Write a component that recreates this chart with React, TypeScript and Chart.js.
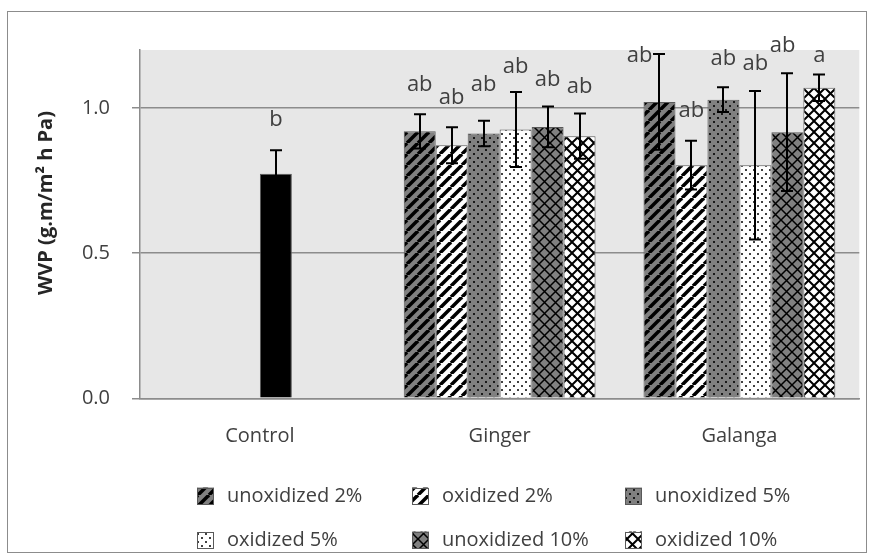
import { useEffect, useRef } from "react";
import { Chart, registerables } from "chart.js";
Chart.register(...registerables);

const categories = ["Control", "Ginger", "Galanga"];
const seriesNames = ["unoxidized 2%", "oxidized 2%", "unoxidized 5%", "oxidized 5%", "unoxidized 10%", "oxidized 10%"];
const yTicks = [0, 0.5, 1.0];

// mean WVP values
const unox2 = [null, 0.92, 1.021];
const ox2 = [null, 0.872, 0.803];
const unox5 = [null, 0.912, 1.029];
const ox5 = [0.774, 0.926, 0.803]; // Control bar sits in this slot
const unox10 = [null, 0.935, 0.917];
const ox10 = [null, 0.903, 1.07];

// error (+/-)
const unox2Err = [null, 0.059, 0.165];
const ox2Err = [null, 0.062, 0.084];
const unox5Err = [null, 0.044, 0.043];
const ox5Err = [0.081, 0.129, 0.256];
const unox10Err = [null, 0.07, 0.203];
const ox10Err = [null, 0.078, 0.046];

// significance letters and the value at which each letter sits
const unox2Let = ["", "ab", "ab"];
const ox2Let = ["", "ab", "ab"];
const unox5Let = ["", "ab", "ab"];
const ox5Let = ["b", "ab", "ab"];
const unox10Let = ["", "ab", "ab"];
const ox10Let = ["", "ab", "a"];
const unox2LetY = [null, 1.081, 1.181];
const ox2LetY = [null, 1.035, 0.992];
const unox5LetY = [null, 1.081, 1.17];
const ox5LetY = [0.96, 1.141, 1.153];
const unox10LetY = [null, 1.098, 1.216];
const ox10LetY = [null, 1.075, 1.179];
// horizontal nudge of letters in bar widths
const unox2LetShift = [0, 0, -0.62];
const unox10LetShift = [0, 0, -0.15];

const FONT = "'Open Sans', 'Noto Sans', sans-serif";
const GRAY = "#808080";
const EDGE = "#595959";
const TEXT = "#404040";

function tile(size: number, draw: (c: CanvasRenderingContext2D) => void) {
  const cv = document.createElement("canvas");
  cv.width = size;
  cv.height = size;
  const c = cv.getContext("2d")!;
  draw(c);
  return c.createPattern(cv, "repeat")!;
}

function stripes(bg: string) {
  const T = 11;
  return tile(T, (c) => {
    c.fillStyle = bg;
    c.fillRect(0, 0, T, T);
    c.strokeStyle = "#000";
    c.lineWidth = 3.5;
    for (const o of [-T, 0, T]) {
      c.beginPath();
      c.moveTo(o, T);
      c.lineTo(o + T, 0);
      c.stroke();
    }
  });
}

function dots(bg: string, dot: string) {
  const T = 8;
  return tile(T, (c) => {
    c.fillStyle = bg;
    c.fillRect(0, 0, T, T);
    c.fillStyle = dot;
    c.fillRect(1, 1, 2, 2);
    c.fillRect(5, 5, 2, 2);
  });
}

function cross(bg: string, lw: number) {
  const T = 11;
  return tile(T, (c) => {
    c.fillStyle = bg;
    c.fillRect(0, 0, T, T);
    c.strokeStyle = "#000";
    c.lineWidth = lw;
    for (const o of [-T, 0, T]) {
      c.beginPath();
      c.moveTo(o, T);
      c.lineTo(o + T, 0);
      c.moveTo(o, 0);
      c.lineTo(o + T, T);
      c.stroke();
    }
  });
}

export default function App() {
  const ref = useRef<HTMLCanvasElement>(null);

  useEffect(() => {
    const canvas = ref.current!;
    const pats = [
      stripes(GRAY),
      stripes("#ffffff"),
      dots(GRAY, "#1a1a1a"),
      dots("#ffffff", "#404040"),
      cross(GRAY, 1.5),
      cross("#ffffff", 2),
    ];
    const values = [unox2, ox2, unox5, ox5, unox10, ox10];
    const errs = [unox2Err, ox2Err, unox5Err, ox5Err, unox10Err, ox10Err];
    const lets = [unox2Let, ox2Let, unox5Let, ox5Let, unox10Let, ox10Let];
    const letY = [unox2LetY, ox2LetY, unox5LetY, ox5LetY, unox10LetY, ox10LetY];
    const shifts = [unox2LetShift, null, null, null, unox10LetShift, null];

    const datasets = values.map((d, i) => ({
      label: seriesNames[i],
      data: d,
      backgroundColor: i === 3 ? ["#000000", pats[i], pats[i]] : pats[i],
      borderColor: EDGE,
      borderWidth: 1,
      categoryPercentage: 0.8,
      barPercentage: 1.0,
    }));

    const decor = {
      id: "decor",
      beforeDraw(chart: any) {
        const { ctx, chartArea: a } = chart;
        ctx.save();
        ctx.fillStyle = "#ffffff";
        ctx.fillRect(0, 0, chart.width, chart.height);
        ctx.fillStyle = "#e7e7e7";
        ctx.fillRect(a.left, a.top, a.right - a.left, a.bottom - a.top);
        ctx.strokeStyle = "#8c8c8c";
        ctx.lineWidth = 1;
        ctx.strokeRect(7.5, 11.5, 859, 541);
        ctx.restore();
      },
      afterDatasetsDraw(chart: any) {
        const { ctx } = chart;
        const y = chart.scales.y;
        ctx.save();
        ctx.strokeStyle = "#000";
        ctx.lineWidth = 2;
        chart.data.datasets.forEach((ds: any, i: number) => {
          const meta = chart.getDatasetMeta(i);
          meta.data.forEach((el: any, j: number) => {
            const v = ds.data[j];
            const e = errs[i][j];
            if (v == null || e == null) return;
            const x = Math.round(el.x);
            const t = y.getPixelForValue(v + e);
            const b = y.getPixelForValue(v - e);
            ctx.beginPath();
            ctx.moveTo(x, t);
            ctx.lineTo(x, b);
            ctx.moveTo(x - 6, t);
            ctx.lineTo(x + 6, t);
            ctx.moveTo(x - 6, b);
            ctx.lineTo(x + 6, b);
            ctx.stroke();
          });
        });
        ctx.restore();
      },
      afterDraw(chart: any) {
        const { ctx } = chart;
        const y = chart.scales.y;
        ctx.save();
        // letters
        ctx.fillStyle = TEXT;
        ctx.font = `22px ${FONT}`;
        ctx.textAlign = "center";
        ctx.textBaseline = "middle";
        chart.data.datasets.forEach((ds: any, i: number) => {
          const meta = chart.getDatasetMeta(i);
          meta.data.forEach((el: any, j: number) => {
            const txt = lets[i][j];
            const ly = letY[i][j];
            if (!txt || ly == null) return;
            const sh = shifts[i] ? (shifts[i] as number[])[j] : 0;
            ctx.fillText(txt, el.x + sh * el.width, y.getPixelForValue(ly));
          });
        });
        // y title
        ctx.save();
        ctx.translate(46, 203);
        ctx.rotate(-Math.PI / 2);
        ctx.font = `bold 20px ${FONT}`;
        ctx.fillStyle = "#262626";
        ctx.fillText("WVP (g.m/m² h Pa)", 0, 0);
        ctx.restore();
        // legend
        const colX = [197, 412, 625];
        const rowY = [496, 540];
        const box = 17;
        ctx.font = `20px ${FONT}`;
        ctx.textAlign = "left";
        ctx.textBaseline = "middle";
        seriesNames.forEach((name, i) => {
          const bx = colX[i % 3];
          const cy = rowY[Math.floor(i / 3)];
          ctx.fillStyle = pats[i];
          ctx.fillRect(bx, cy - box / 2, box, box);
          ctx.strokeStyle = EDGE;
          ctx.lineWidth = 1;
          ctx.strokeRect(bx + 0.5, Math.round(cy - box / 2) + 0.5, box - 1, box - 1);
          ctx.fillStyle = TEXT;
          ctx.fillText(name, bx + 30, cy);
        });
        ctx.restore();
      },
    };

    const chart = new Chart(canvas, {
      type: "bar",
      data: { labels: categories, datasets: datasets as any },
      options: {
        animation: false,
        responsive: false,
        layout: { padding: { left: 0, top: 50, right: 11.7, bottom: 0 } },
        plugins: { legend: { display: false }, tooltip: { enabled: false } },
        scales: {
          x: {
            grid: { display: false, drawTicks: false },
            border: { display: true, color: "#8c8c8c", width: 1.5 },
            ticks: { color: TEXT, font: { family: FONT, size: 20 }, padding: 26 },
            afterFit: (s: any) => {
              s.height = 158.7;
            },
          },
          y: {
            min: 0,
            max: 1.2,
            afterBuildTicks: (s: any) => {
              s.ticks = yTicks.map((v) => ({ value: v }));
            },
            grid: { color: "#8c8c8c", lineWidth: 1.5, tickLength: 8, drawTicks: true },
            border: { display: true, color: "#8c8c8c", width: 1.5 },
            ticks: {
              color: TEXT,
              font: { family: FONT, size: 20 },
              padding: 22,
              callback: (v: any) => Number(v).toFixed(1),
            },
            afterFit: (s: any) => {
              s.width = 140;
            },
          },
        },
      },
      plugins: [decor],
    });
    return () => chart.destroy();
  }, []);

  return (
    <div style={{ position: "fixed", left: 0, top: 0, width: 871, height: 557 }}>
      <canvas ref={ref} width={871} height={557} style={{ display: "block" }} />
    </div>
  );
}
